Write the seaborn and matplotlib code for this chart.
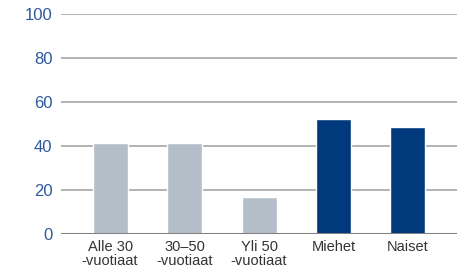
import matplotlib
matplotlib.use("Agg")
import matplotlib.pyplot as plt
import seaborn as sns
import pandas as pd

# Data
categories = ["Alle 30\n-vuotiaat", "30\u201350\n-vuotiaat", "Yli 50\n-vuotiaat", "Miehet", "Naiset"]
values = [41.5, 41.5, 17, 52.5, 48.5]
groups = ["ika", "ika", "ika", "sukupuoli", "sukupuoli"]
yticks = [0, 20, 40, 60, 80, 100]

df = pd.DataFrame({"cat": categories, "val": values, "grp": groups})

sns.set_theme(style="white")
plt.rcParams["font.family"] = ["Liberation Sans", "DejaVu Sans"]

fig = plt.figure(figsize=(4.65, 2.79), dpi=100)
ax = fig.add_axes([0.131, 0.161, 0.852, 0.789])

pal = {"ika": "#b4bec9", "sukupuoli": "#003a7d"}
sns.barplot(data=df, x="cat", y="val", hue="grp", palette=pal, dodge=False,
            width=0.47, saturation=1, legend=False, ax=ax, zorder=3)

ax.set_ylim(0, 100)
ax.set_xlim(-0.66, 4.66)
ax.set_yticks(yticks)
for t in yticks[1:]:
    ax.axhline(t, color="#a6a6a6", lw=1.2, zorder=1)
ax.axhline(0, color="#808080", lw=2.2, zorder=4)

for s in ax.spines.values():
    s.set_visible(False)
ax.set_xlabel("")
ax.set_ylabel("")
ax.tick_params(axis="y", length=0, pad=6, labelsize=12, labelcolor="#2e5a9c")
ax.tick_params(axis="x", length=0, pad=4, labelsize=10.5, labelcolor="#333333")
for lab in ax.get_xticklabels():
    lab.set_linespacing(1.0)

fig.savefig("out.png", dpi=100)
